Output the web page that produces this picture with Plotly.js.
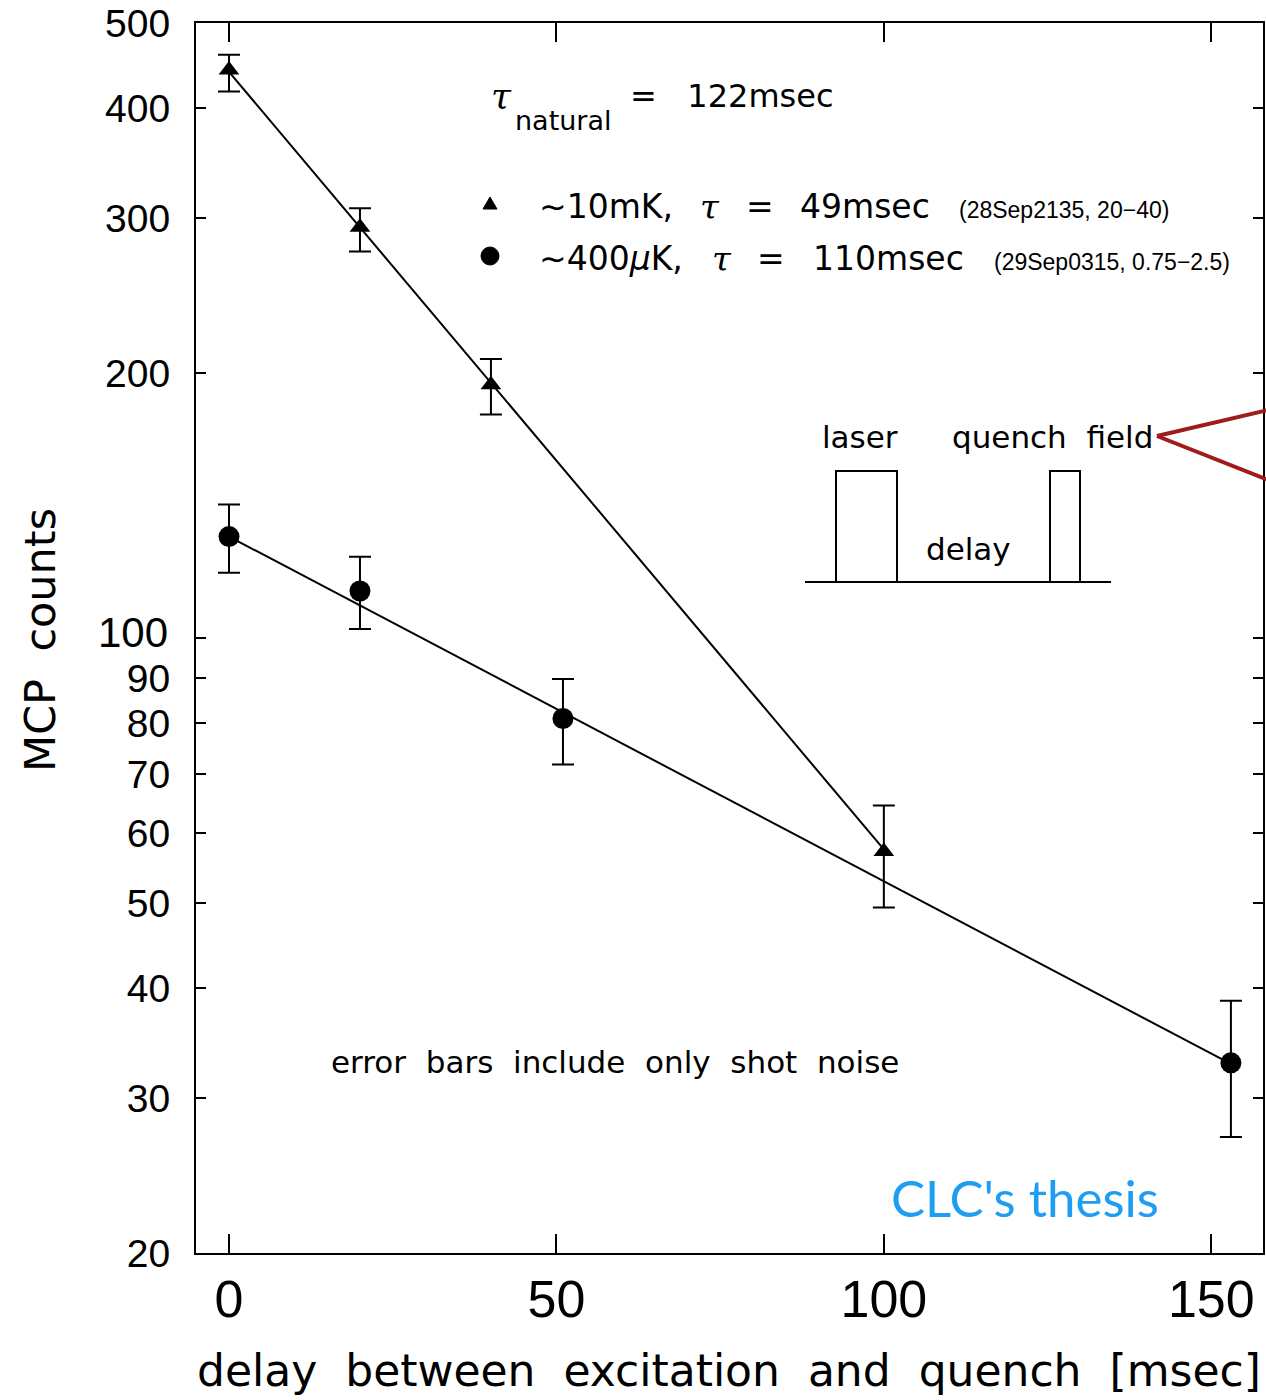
<!DOCTYPE html>
<html>
<head>
<meta charset="utf-8">
<script src="https://cdn.plot.ly/plotly-3.0.1.min.js"></script>
<style>html,body{margin:0;padding:0;background:#fff}#chart{width:1266px;height:1400px}</style>
</head>
<body>
<div id="chart"></div>
<script>
// ---- data ----
const delayCold = [0, 20, 40, 100];              // ~10mK series (triangles)
const countsCold = [442, 293, 194, 57.2];
const errColdPlus = [18, 15, 13.5, 7.3];
const errColdMinus = [24, 18, 14.5, 7.8];

const delayUltra = [0, 20, 51, 153];             // ~400uK series (circles)
const countsUltra = [130.4, 113.1, 81.0, 32.9];
const errUltraPlus = [11.4, 10.6, 8.8, 5.8];
const errUltraMinus = [11.8, 10.7, 9.2, 5.8];

const fitColdX = [0, 100];                        // exponential fit, tau = 49 msec
const fitColdY = [440, 57.5];
const fitUltraX = [0, 153];                       // exponential fit, tau = 110 msec
const fitUltraY = [130.4, 32.8];

const yTickVals = [20, 30, 40, 50, 60, 70, 80, 90, 100, 200, 300, 400, 500];
const yTickText = ['20', '30', '40', '50', '60', '70', '80', '90', '', '200', '300', '400', '500'];
const xTickVals = [0, 50, 100, 150];
const xTickText = ['0', '50', '100', '150'];

// ---- layout helpers (pixel -> paper) ----
const L = 196, R = 1263, T = 23, B = 1253;
const px = x => (x - L) / (R - L);
const py = y => (B - y) / (B - T);
const NB = '\u00a0';
const sp = n => NB.repeat(n);
const TXT = 'DejaVu Sans, sans-serif';
const NUM = 'Liberation Sans, Arial, sans-serif';

function ann(text, x, y, size, opts) {
  return Object.assign({
    text: text, xref: 'paper', yref: 'paper', x: px(x), y: py(y),
    xanchor: 'center', yanchor: 'middle', showarrow: false,
    font: {family: TXT, size: size, color: '#000'}
  }, opts || {});
}
function line(x0, y0, x1, y1, color, w) {
  return {type: 'line', xref: 'paper', yref: 'paper', x0: px(x0), y0: py(y0), x1: px(x1), y1: py(y1),
    line: {color: color || '#000', width: w || 2}};
}
function pathShape(pts, color, w, fill) {
  const d = pts.map((p, i) => (i ? 'L' : 'M') + px(p[0]) + ',' + py(p[1])).join(' ');
  const s = {type: 'path', xref: 'paper', yref: 'paper', path: d, line: {color: color || '#000', width: w || 2}};
  if (fill) s.fillcolor = fill;
  return s;
}

const traces = [
  {x: fitColdX, y: fitColdY, mode: 'lines', line: {color: '#000', width: 2}, hoverinfo: 'skip'},
  {x: fitUltraX, y: fitUltraY, mode: 'lines', line: {color: '#000', width: 2}, hoverinfo: 'skip'},
  {x: delayCold, y: countsCold, mode: 'markers',
   marker: {symbol: 'triangle-up', size: 18, color: '#000'},
   error_y: {type: 'data', symmetric: false, array: errColdPlus, arrayminus: errColdMinus,
             color: '#000', thickness: 2, width: 11}},
  {x: delayUltra, y: countsUltra, mode: 'markers',
   marker: {symbol: 'circle', size: 21, color: '#000'},
   error_y: {type: 'data', symmetric: false, array: errUltraPlus, arrayminus: errUltraMinus,
             color: '#000', thickness: 2, width: 11}}
];

const shapes = [
  // longer tick at 100 on both sides
  {type: 'line', xref: 'paper', yref: 'y', x0: 0, x1: 20 / (R - L), y0: 2, y1: 2, line: {color: '#000', width: 2}},
  {type: 'line', xref: 'paper', yref: 'y', x0: 1, x1: 1 - 20 / (R - L), y0: 2, y1: 2, line: {color: '#000', width: 2}},
  // timing diagram
  line(805, 582, 1111, 582),
  pathShape([[836, 582], [836, 471], [897, 471], [897, 582]]),
  pathShape([[1050, 582], [1050, 471], [1080, 471], [1080, 582]]),
  // red pointer
  line(1157, 436, 1268, 410, '#9e1c1c', 4),
  line(1157, 436, 1268, 480, '#9e1c1c', 4),
  // legend symbols
  pathShape([[483, 209], [497, 209], [490, 197], [483, 209]], '#000', 1, '#000'),
  {type: 'circle', xref: 'paper', yref: 'paper', x0: px(481), x1: px(499), y0: py(247), y1: py(265),
   fillcolor: '#000', line: {color: '#000', width: 1}}
];

const annotations = [
  ann('100', 170, 632, 42, {xanchor: 'right', font: {family: NUM, size: 42, color: '#000'}}),
  // tau natural
  ann('<i>τ</i>', 501, 96, 36, {font: {family: 'DejaVu Serif, serif', size: 36, color: '#000'}}),
  ann('natural', 513, 120, 27, {xanchor: 'left'}),
  ann('=' + sp(3) + '122msec', 628, 96, 32, {xanchor: 'left'}),
  // legend line 1
  ann('∼10mK,', 537, 206, 33, {xanchor: 'left'}),
  ann('<i>τ</i>', 710, 207, 34, {font: {family: 'DejaVu Serif, serif', size: 34, color: '#000'}}),
  ann('=', 760, 206, 33),
  ann('49msec', 798, 206, 33, {xanchor: 'left'}),
  ann('(28Sep2135, 20−40)', 957, 210, 23, {xanchor: 'left', font: {family: NUM, size: 23, color: '#000'}}),
  // legend line 2
  ann('∼400<i>μ</i>K,', 537, 258, 33, {xanchor: 'left'}),
  ann('<i>τ</i>', 722, 259, 34, {font: {family: 'DejaVu Serif, serif', size: 34, color: '#000'}}),
  ann('=', 771, 258, 33),
  ann('110msec', 811, 258, 33, {xanchor: 'left'}),
  ann('(29Sep0315, 0.75−2.5)', 992, 262, 23, {xanchor: 'left', font: {family: NUM, size: 23, color: '#000'}}),
  // timing diagram labels
  ann('laser', 860, 437, 31),
  ann('quench' + sp(2) + 'field', 950, 437, 31, {xanchor: 'left'}),
  ann('delay', 968, 549, 31),
  // notes
  ann(['error', 'bars', 'include', 'only', 'shot', 'noise'].join(sp(2)), 615, 1062, 31),
  ann("CLC's thesis", 1025, 1197, 51, {font: {family: 'Lato, Open Sans, sans-serif', size: 51, color: '#1e9ef2'}}),
  // axis titles
  ann(['delay', 'between', 'excitation', 'and', 'quench', '[msec]'].join(sp(2)), 729, 1370, 44,
      {font: {family: TXT, size: 44, color: '#000'}}),
  ann('MCP' + sp(2) + 'counts', 40, 640, 43, {textangle: -90,
      font: {family: TXT, size: 43, color: '#000'}})
];

const layout = {
  width: 1266, height: 1400,
  margin: {l: L, r: 1266 - R, t: T, b: 1400 - B, pad: 0},
  paper_bgcolor: '#fff', plot_bgcolor: '#fff',
  showlegend: false,
  xaxis: {
    range: [-5.04, 157.9], tickvals: xTickVals, ticktext: xTickText,
    ticks: 'inside', ticklen: 19, tickwidth: 2, tickcolor: '#000',
    showline: true, linecolor: '#000', linewidth: 2, mirror: 'ticks',
    showgrid: false, zeroline: false, ticklabelstandoff: 0,
    tickfont: {family: NUM, size: 52, color: '#000'}
  },
  yaxis: {
    type: 'log', range: [Math.log10(20), Math.log10(500)],
    tickvals: yTickVals, ticktext: yTickText,
    ticks: 'inside', ticklen: 10, tickwidth: 2, tickcolor: '#000',
    showline: true, linecolor: '#000', linewidth: 2, mirror: 'ticks',
    showgrid: false, zeroline: false, ticklabelstandoff: 16,
    tickfont: {family: NUM, size: 39, color: '#000'}
  },
  shapes: shapes,
  annotations: annotations
};

Plotly.newPlot('chart', traces, layout, {staticPlot: true});
</script>
</body>
</html>
